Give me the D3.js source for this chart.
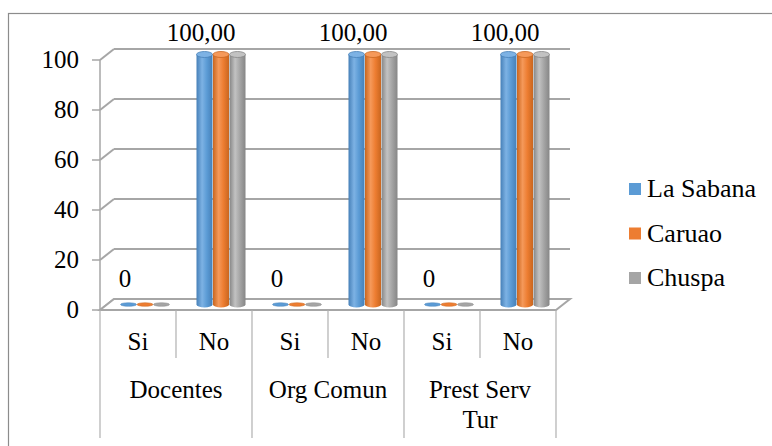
<!DOCTYPE html>
<html><head><meta charset="utf-8">
<script src="https://cdn.jsdelivr.net/npm/d3@7"></script>
<style>html,body{margin:0;padding:0;background:#fff}svg{display:block}</style>
</head><body><svg id="c" width="772" height="446"></svg>
<script>
// ---- data ----
const groups = ["Docentes", "Org Comun", "Prest Serv Tur"];
const answers = ["Si", "No"];
const seriesNames = ["La Sabana", "Caruao", "Chuspa"];
const laSabana = [0, 100, 0, 100, 0, 100];
const caruao   = [0, 100, 0, 100, 0, 100];
const chuspa   = [0, 100, 0, 100, 0, 100];
const yTicks = [0, 20, 40, 60, 80, 100];
const colors = ["#5B9BD5", "#ED7D31", "#A5A5A5"];
const darkColors = ["#4680B8", "#C9661F", "#868686"];
const lightColors = ["#7DB2E4", "#F5995A", "#C2C2C2"];

const seriesData = [laSabana, caruao, chuspa];
const cats = [];
groups.forEach(g => answers.forEach(a => cats.push(g + "|" + a)));

const svg = d3.select("#c");
const FS = 25;
const FONT = "Liberation Serif";

// geometry
const x0 = 100, x1 = 556, yBot = 310, yTop = 60, DX = 14, DY = -11;
const x = d3.scaleBand().domain(cats).range([x0, x1]);
const xg = d3.scaleBand().domain(groups).range([x0, x1]);
const xs = d3.scaleBand().domain(seriesNames).range([-24.75, 24.75]);
const y = d3.scaleLinear().domain([0, 100]).range([yBot, yTop]);

function stext(sel, tx, ty, str, anchor, size) {
  return sel.append("text")
    .attr("x", tx).attr("y", ty)
    .attr("font-family", FONT).attr("fill", "#000")
    .attr("text-anchor", anchor).attr("font-size", (size || FS) + "px").text(str);
}

// outer border
svg.append("rect").attr("x", 8.5).attr("y", 13.5).attr("width", 800).attr("height", 500)
  .attr("fill", "none").attr("stroke", "#8c8c8c").attr("stroke-width", 1.2);

const gridC = "#a6a6a6";
yTicks.forEach(t => {
  const yy = y(t);
  if (t > 0) {
    svg.append("line").attr("x1", x0 + DX).attr("x2", x1 + DX).attr("y1", yy + DY).attr("y2", yy + DY)
      .attr("stroke", gridC).attr("stroke-width", 2);
  }
  svg.append("line").attr("x1", x0).attr("y1", yy).attr("x2", x0 + DX).attr("y2", yy + DY)
    .attr("stroke", gridC).attr("stroke-width", 2);
  svg.append("line").attr("x1", x0 - 8).attr("y1", yy).attr("x2", x0).attr("y2", yy)
    .attr("stroke", gridC).attr("stroke-width", 1.5);
  stext(svg, 79, yy + 8, String(t), "end");
});
svg.append("line").attr("x1", x0).attr("x2", x0).attr("y1", y(100)).attr("y2", yBot)
  .attr("stroke", gridC).attr("stroke-width", 1.5);
svg.append("path")
  .attr("d", `M${x0},${yBot} L${x0 + DX},${yBot + DY} L${x1 + DX},${yBot + DY} L${x1},${yBot} Z`)
  .attr("fill", "#fff").attr("stroke", gridC).attr("stroke-width", 2);

cats.forEach((c, i) => {
  const xx = x(c);
  const isGroupEdge = i % 2 === 0;
  svg.append("line").attr("x1", xx).attr("x2", xx).attr("y1", yBot).attr("y2", isGroupEdge ? 438 : 358)
    .attr("stroke", "#b0b0b0").attr("stroke-width", 1.2);
});
svg.append("line").attr("x1", x1).attr("x2", x1).attr("y1", yBot).attr("y2", 438)
  .attr("stroke", "#b0b0b0").attr("stroke-width", 1.2);

cats.forEach(c => {
  stext(svg, x(c) + x.bandwidth() / 2, 350, c.split("|")[1], "middle");
});
groups.forEach(g => {
  const cx = xg(g) + xg.bandwidth() / 2;
  const words = g.split(" ");
  const lines = [];
  let cur = [];
  const tmp = svg.append("text").attr("font-family", FONT).attr("font-size", FS + "px");
  words.forEach(w => {
    const test = cur.concat([w]).join(" ");
    tmp.text(test);
    if (tmp.node().getComputedTextLength() > xg.bandwidth() - 22 && cur.length) {
      lines.push(cur.join(" ")); cur = [w];
    } else cur.push(w);
  });
  lines.push(cur.join(" "));
  tmp.remove();
  lines.forEach((l, i) => stext(svg, cx, 398 + i * 30, l, "middle"));
});

const defs = svg.append("defs");
colors.forEach((c, i) => {
  const gr = defs.append("linearGradient").attr("id", "g" + i).attr("x1", 0).attr("x2", 1).attr("y1", 0).attr("y2", 0);
  gr.append("stop").attr("offset", "0%").attr("stop-color", darkColors[i]);
  gr.append("stop").attr("offset", "35%").attr("stop-color", lightColors[i]);
  gr.append("stop").attr("offset", "65%").attr("stop-color", c);
  gr.append("stop").attr("offset", "100%").attr("stop-color", darkColors[i]);
});

const bw = 16, ry = 3;
seriesNames.forEach((s, si) => {
  cats.forEach((c, ci) => {
    const v = seriesData[si][ci];
    const cx = x(c) + x.bandwidth() / 2 + DX / 2 + xs(s) + xs.bandwidth() / 2;
    const yb = y(0) + DY / 2, yt = y(v) + DY / 2;
    const g = svg.append("g");
    if (v > 0) {
      g.append("path")
        .attr("d", `M${cx - bw / 2},${yt} L${cx - bw / 2},${yb} A${bw / 2},${ry} 0 0 0 ${cx + bw / 2},${yb} L${cx + bw / 2},${yt} Z`)
        .attr("fill", `url(#g${si})`);
      g.append("ellipse").attr("cx", cx).attr("cy", yt).attr("rx", bw / 2).attr("ry", ry)
        .attr("fill", lightColors[si]).attr("stroke", darkColors[si]).attr("stroke-width", 0.8);
    } else {
      g.append("ellipse").attr("cx", cx).attr("cy", yb).attr("rx", bw / 2).attr("ry", 1.8)
        .attr("fill", colors[si]).attr("stroke", darkColors[si]).attr("stroke-width", 0.5);
    }
  });
});

const fmt = v => v === 0 ? "0" : d3.format(".2f")(v).replace(".", ",");
cats.forEach((c, ci) => {
  const v = caruao[ci];
  const cx = x(c) + x.bandwidth() / 2 + DX / 2 - 20;
  stext(svg, cx, y(v) + DY / 2 - (v === 0 ? 17.5 : 13.5), fmt(v), "middle");
});

seriesNames.forEach((s, i) => {
  const cy = 189 + i * 44.5;
  svg.append("rect").attr("x", 629).attr("y", cy - 6).attr("width", 12).attr("height", 12).attr("fill", colors[i]);
  stext(svg, 647, cy + 8, s, "start", 26);
});
</script></body></html>
